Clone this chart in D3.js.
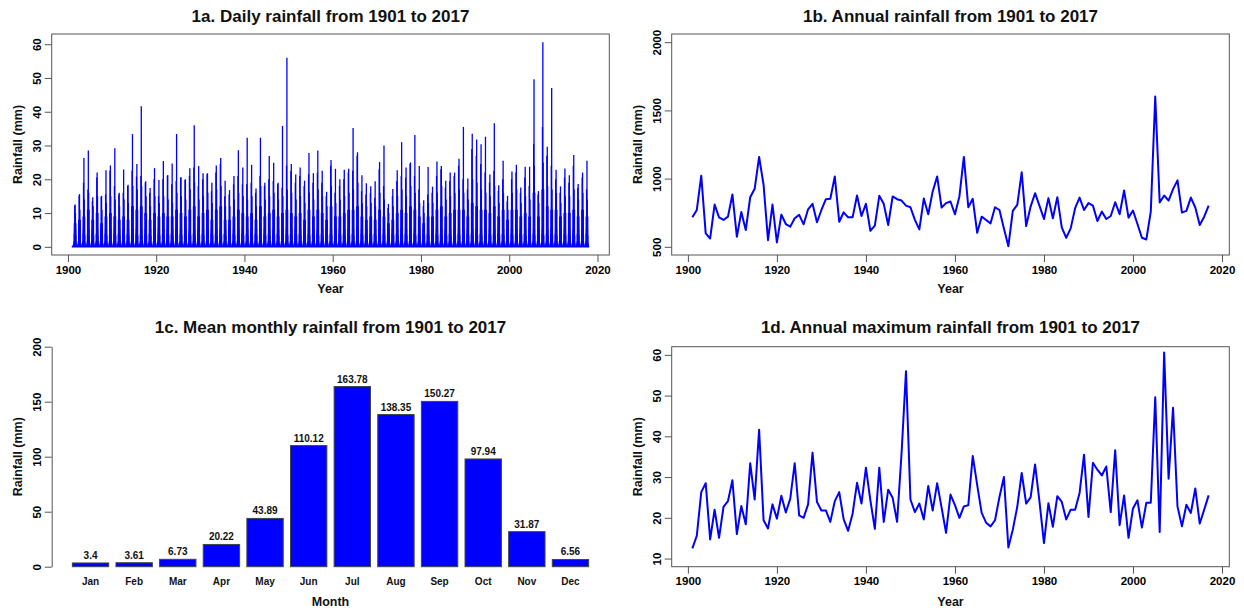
<!DOCTYPE html>
<html>
<head>
<meta charset="utf-8">
<script src="https://cdnjs.cloudflare.com/ajax/libs/d3/7.8.5/d3.min.js"></script>
<style>
  body { margin: 0; background: #fff; }
  svg { display: block; font-family: "Liberation Sans", Arial, sans-serif; font-weight: bold; }
</style>
</head>
<body>
<svg id="chart"></svg>
<script>
var width = 1244,
    height = 613;

// years 1901..2017
var years = d3.range(1901, 2018);

// 1b. annual rainfall (mm)
var annualRain = [
  716, 770, 1021, 598, 561, 810, 716, 697, 721, 884,
  574, 756, 623, 864, 925, 1159, 955, 549, 810, 532,
  736, 667, 648, 709, 734, 665, 775, 815, 680, 770,
  849, 852, 1016, 684, 753, 716, 716, 876, 726, 815,
  618, 655, 874, 815, 660, 869, 849, 839, 802, 790,
  697, 628, 854, 739, 906, 1016, 788, 820, 832, 739,
  869, 1159, 790, 852, 603, 721, 697, 672, 790, 770,
  635, 505, 763, 807, 1046, 652, 795, 893, 800, 704,
  857, 709, 864, 643, 566, 635, 783, 861, 770, 820,
  802, 689, 758, 704, 726, 827, 739, 913, 714, 766,
  667, 566, 554, 758, 1602, 825, 876, 839, 923, 987,
  751, 763, 861, 788, 660, 721, 802
];

// 1d. annual maximum daily rainfall (mm), also the tallest daily spike of each year in 1a
var annualMax = [
  12.5, 15.6, 26.3, 28.5, 14.7, 22.0, 15.1, 22.7, 24.1, 29.2,
  16.0, 22.9, 18.4, 33.4, 24.5, 41.6, 19.4, 17.4, 23.3, 19.8,
  25.4, 21.3, 24.7, 33.4, 20.6, 20.0, 23.3, 36.0, 23.9, 21.8,
  21.8, 19.0, 24.1, 26.3, 19.6, 16.8, 21.0, 28.6, 23.5, 32.3,
  24.3, 17.3, 32.3, 19.0, 26.9, 24.9, 19.0, 35.8, 56.0, 24.5,
  21.4, 23.5, 19.6, 27.8, 21.8, 28.5, 22.5, 16.3, 25.7, 23.1,
  20.0, 22.8, 23.1, 35.2, 28.0, 21.2, 18.8, 17.9, 19.4, 25.1,
  30.0, 12.7, 17.1, 22.7, 31.0, 23.5, 25.0, 33.1, 23.9, 13.8,
  23.6, 17.8, 25.3, 23.9, 19.6, 22.0, 22.0, 26.1, 35.5, 20.2,
  33.5, 31.8, 30.4, 32.6, 21.4, 36.6, 18.2, 25.5, 15.1, 22.3,
  24.3, 17.6, 23.7, 23.7, 49.6, 16.5, 60.6, 29.6, 47.0, 22.8,
  17.9, 23.2, 21.2, 27.2, 18.6, 22.0, 25.5
];

// 1a. lower daily spikes of each year (mm)
var dailyPeak2 = [
  12.2, 15.2, 19.0, 17.0, 13.5, 20.5, 14.8, 15.5, 22.5, 18.0,
  15.5, 16.0, 18.0, 22.5, 20.8, 21.0, 19.0, 16.0, 20.0, 15.0,
  20.0, 21.0, 18.5, 19.5, 20.5, 19.8, 21.0, 23.5, 18.0, 20.0,
  21.5, 16.5, 22.0, 24.5, 15.0, 15.5, 18.5, 21.0, 18.5, 18.5,
  19.0, 16.0, 21.0, 18.0, 20.0, 19.5, 18.5, 17.5, 24.0, 22.5,
  19.0, 21.0, 18.0, 21.5, 19.0, 22.0, 19.0, 15.0, 24.0, 16.0,
  18.0, 20.0, 22.0, 22.5, 27.0, 16.5, 15.5, 16.0, 14.5, 23.0,
  18.0, 11.5, 15.0, 19.5, 21.0, 20.5, 24.5, 21.0, 17.0, 12.0,
  15.5, 16.0, 21.0, 23.0, 17.5, 19.5, 21.0, 24.0, 20.0, 17.0,
  29.0, 27.0, 24.5, 22.0, 19.0, 22.5, 16.5, 20.0, 13.5, 20.0,
  22.0, 16.0, 20.5, 18.0, 30.5, 15.5, 35.5, 27.0, 24.0, 20.0,
  16.0, 20.5, 19.0, 24.0, 17.5, 20.5, 17.0
];
var dailyPeak3 = [
  10, 11, 14, 16, 12, 15, 11, 13, 15, 14,
  12, 14, 13, 18, 17, 18, 15, 12, 15, 13,
  15, 14, 13, 16, 15, 14, 17, 19, 14, 15,
  16, 13, 17, 18, 12, 12, 14, 16, 15, 14,
  15, 12, 18, 14, 15, 16, 14, 15, 17, 16,
  14, 15, 13, 16, 14, 17, 15, 12, 18, 13,
  14, 15, 16, 17, 19, 13, 12, 13, 12, 16,
  14, 10, 12, 15, 17, 15, 18, 16, 13, 10,
  13, 13, 16, 18, 14, 15, 16, 17, 16, 14,
  20, 19, 17, 16, 15, 18, 13, 16, 11, 16,
  17, 13, 15, 14, 24, 13, 25, 18, 17, 16,
  13, 15, 15, 17, 14, 16, 14
];
var dailyPeak4 = [
  7, 8, 9, 11, 8, 10, 7, 9, 10, 9,
  8, 9, 8, 12, 11, 12, 10, 8, 10, 9,
  10, 9, 9, 11, 10, 9, 11, 12, 9, 10,
  11, 8, 11, 12, 8, 8, 9, 11, 10, 9,
  10, 8, 12, 9, 10, 11, 9, 10, 11, 10,
  9, 10, 8, 11, 9, 11, 10, 8, 12, 9,
  9, 10, 11, 11, 12, 9, 8, 9, 8, 11,
  9, 7, 8, 10, 11, 10, 12, 11, 9, 7,
  9, 9, 11, 12, 9, 10, 11, 11, 11, 9,
  13, 12, 11, 11, 10, 12, 9, 11, 8, 11,
  11, 9, 10, 9, 16, 9, 17, 12, 11, 11,
  9, 10, 10, 11, 9, 11, 9
];

// 1c. mean monthly rainfall (mm)
var months = ["Jan", "Feb", "Mar", "Apr", "May", "Jun", "Jul", "Aug", "Sep", "Oct", "Nov", "Dec"];
var monthlyMean = [3.4, 3.61, 6.73, 20.22, 43.89, 110.12, 163.78, 138.35, 150.27, 97.94, 31.87, 6.56];
var daysInMonth = [31, 28, 31, 30, 31, 30, 31, 31, 30, 31, 30, 31];

// tick values
var yearTicks = [1900, 1920, 1940, 1960, 1980, 2000, 2020];
var dailyTicks = [0, 10, 20, 30, 40, 50, 60];
var annualTicks = [500, 1000, 1500, 2000];
var monthlyTicks = [0, 50, 100, 150, 200];
var maxTicks = [10, 20, 30, 40, 50, 60];

var blue = "#0000ff",
    axisColor = "#555";

var svg = d3.select("#chart")
  .attr("width", width)
  .attr("height", height);

// plot regions
var colX = [[51.7, 609.3], [671.7, 1229.3]];
var rowY = [[34, 255], [346.7, 566.7]];

// R-style 4% padding of a range
function pad(a, b) {
  var r = b - a;
  return [a - 0.04 * r, b + 0.04 * r];
}

function xAxis(scale, ticks, y) {
  var a = svg.append("g")
    .attr("transform", "translate(0," + y + ")")
    .call(d3.axisBottom(scale).tickValues(ticks).tickSize(7).tickFormat(d3.format("d")));
  a.attr("font-size", 11.5).attr("font-family", null);
  a.select(".domain").remove();
  a.selectAll("line").attr("stroke", axisColor);
  a.selectAll("text").attr("y", 18.5).attr("dy", null).attr("fill", "#000");
  return a;
}

function yAxis(scale, ticks, x, keepDomain) {
  var a = svg.append("g")
    .attr("transform", "translate(" + x + ",0)")
    .call(d3.axisLeft(scale).tickValues(ticks).tickSize(7).tickSizeOuter(0).tickFormat(d3.format("d")));
  a.attr("font-size", 11.5).attr("font-family", null);
  if (keepDomain) a.select(".domain").attr("stroke", axisColor);
  else a.select(".domain").remove();
  a.selectAll("line").attr("stroke", axisColor);
  a.selectAll("text")
    .attr("transform", "rotate(-90)")
    .attr("x", 0).attr("y", -10.5).attr("dy", null)
    .attr("text-anchor", "middle").attr("fill", "#000");
  return a;
}

function frame(c, r) {
  svg.append("rect")
    .attr("x", colX[c][0]).attr("y", rowY[r][0])
    .attr("width", colX[c][1] - colX[c][0])
    .attr("height", rowY[r][1] - rowY[r][0])
    .attr("fill", "none").attr("stroke", axisColor).attr("stroke-width", 1);
}

function labels(c, r, title, xTitle, titleY, xTitleY) {
  var cx = (colX[c][0] + colX[c][1]) / 2;
  var cy = (rowY[r][0] + rowY[r][1]) / 2;
  svg.append("text").attr("x", cx).attr("y", titleY)
    .attr("text-anchor", "middle").attr("font-size", 17).attr("fill", "#111")
    .text(title);
  svg.append("text").attr("x", cx).attr("y", xTitleY)
    .attr("text-anchor", "middle").attr("font-size", 12.5).attr("fill", "#111")
    .text(xTitle);
  svg.append("text")
    .attr("transform", "translate(" + (colX[c][0] - 30) + "," + cy + ") rotate(-90)")
    .attr("text-anchor", "middle").attr("font-size", 12.5).attr("fill", "#111")
    .text("Rainfall (mm)");
}

// ---------- 1a. daily rainfall ----------
var xa = d3.scaleLinear().domain(pad(1901, 2018)).range(colX[0]);
var ya = d3.scaleLinear().domain(pad(0, d3.max(annualMax))).range([rowY[0][1], rowY[0][0]]);

// base: mean daily rainfall of each month, repeated over the years
var basePts = [];
years.forEach(function(yr) {
  var day = 0;
  months.forEach(function(m, j) {
    basePts.push([yr + day / 365, monthlyMean[j] / daysInMonth[j]]);
    day += daysInMonth[j];
  });
});
basePts.push([2018, monthlyMean[0] / daysInMonth[0]]);

svg.append("path")
  .datum(basePts)
  .attr("fill", blue)
  .attr("stroke", blue)
  .attr("stroke-width", 1.2)
  .attr("d", d3.area().curve(d3.curveStepAfter)
    .x(function(d) { return xa(d[0]); })
    .y0(ya(0))
    .y1(function(d) { return ya(d[1]); }));

// spikes: the wettest days of each year, through the monsoon
var spikes = [];
years.forEach(function(yr, i) {
  spikes.push([yr + 0.45, dailyPeak4[i]]);
  spikes.push([yr + 0.53, dailyPeak2[i]]);
  spikes.push([yr + 0.62, annualMax[i]]);
  spikes.push([yr + 0.70, dailyPeak3[i]]);
  spikes.push([yr + 0.79, dailyPeak4[i]]);
});
svg.append("g")
  .selectAll("line")
  .data(spikes)
  .enter()
  .append("line")
    .attr("x1", function(d) { return xa(d[0]); })
    .attr("x2", function(d) { return xa(d[0]); })
    .attr("y1", ya(0))
    .attr("y2", function(d) { return ya(d[1]); })
    .attr("stroke", blue)
    .attr("stroke-width", 1.3);

frame(0, 0);
xAxis(xa, yearTicks, rowY[0][1]);
yAxis(ya, dailyTicks, colX[0][0], false);
labels(0, 0, "1a. Daily rainfall from 1901 to 2017", "Year", 22, 293);

// ---------- 1b. annual rainfall ----------
var xb = d3.scaleLinear().domain(pad(1901, 2017)).range(colX[1]);
var yb = d3.scaleLinear().domain(pad(500, 2000)).range([rowY[0][1], rowY[0][0]]);

svg.append("path")
  .datum(annualRain)
  .attr("fill", "none")
  .attr("stroke", blue)
  .attr("stroke-width", 2)
  .attr("stroke-linejoin", "round")
  .attr("d", d3.line()
    .x(function(d, i) { return xb(years[i]); })
    .y(function(d) { return yb(d); }));

frame(1, 0);
xAxis(xb, yearTicks, rowY[0][1]);
yAxis(yb, annualTicks, colX[1][0], false);
labels(1, 0, "1b. Annual rainfall from 1901 to 2017", "Year", 22, 293);

// ---------- 1c. mean monthly rainfall ----------
var xc = d3.scaleLinear().domain(pad(0.2, 14.4)).range(colX[0]);
var yc = d3.scaleLinear().domain([0, 200]).range([rowY[1][1], rowY[1][0]]);

var bars = svg.append("g")
  .selectAll("g")
  .data(monthlyMean)
  .enter()
  .append("g");

bars.append("rect")
  .attr("x", function(d, i) { return xc(0.2 + 1.2 * i); })
  .attr("width", xc(1) - xc(0))
  .attr("y", function(d) { return yc(d); })
  .attr("height", function(d) { return yc(0) - yc(d); })
  .attr("fill", blue)
  .attr("stroke", "#444")
  .attr("stroke-width", 1);

bars.append("text")
  .attr("x", function(d, i) { return xc(0.7 + 1.2 * i); })
  .attr("y", function(d) { return yc(d) - 4; })
  .attr("text-anchor", "middle")
  .attr("font-size", 10)
  .attr("fill", "#111")
  .text(function(d) { return d; });

bars.append("text")
  .attr("x", function(d, i) { return xc(0.7 + 1.2 * i); })
  .attr("y", 584.5)
  .attr("text-anchor", "middle")
  .attr("font-size", 10)
  .attr("fill", "#111")
  .text(function(d, i) { return months[i]; });

yAxis(yc, monthlyTicks, colX[0][0], true);
labels(0, 1, "1c. Mean monthly rainfall from 1901 to 2017", "Month", 333, 606);

// ---------- 1d. annual maximum rainfall ----------
var xd = d3.scaleLinear().domain(pad(1901, 2017)).range(colX[1]);
var yd = d3.scaleLinear().domain(pad(10, 60)).range([rowY[1][1], rowY[1][0]]);

svg.append("path")
  .datum(annualMax)
  .attr("fill", "none")
  .attr("stroke", blue)
  .attr("stroke-width", 2)
  .attr("stroke-linejoin", "round")
  .attr("d", d3.line()
    .x(function(d, i) { return xd(years[i]); })
    .y(function(d) { return yd(d); }));

frame(1, 1);
xAxis(xd, yearTicks, rowY[1][1]);
yAxis(yd, maxTicks, colX[1][0], false);
labels(1, 1, "1d. Annual maximum rainfall from 1901 to 2017", "Year", 333, 606);
</script>
</body>
</html>
